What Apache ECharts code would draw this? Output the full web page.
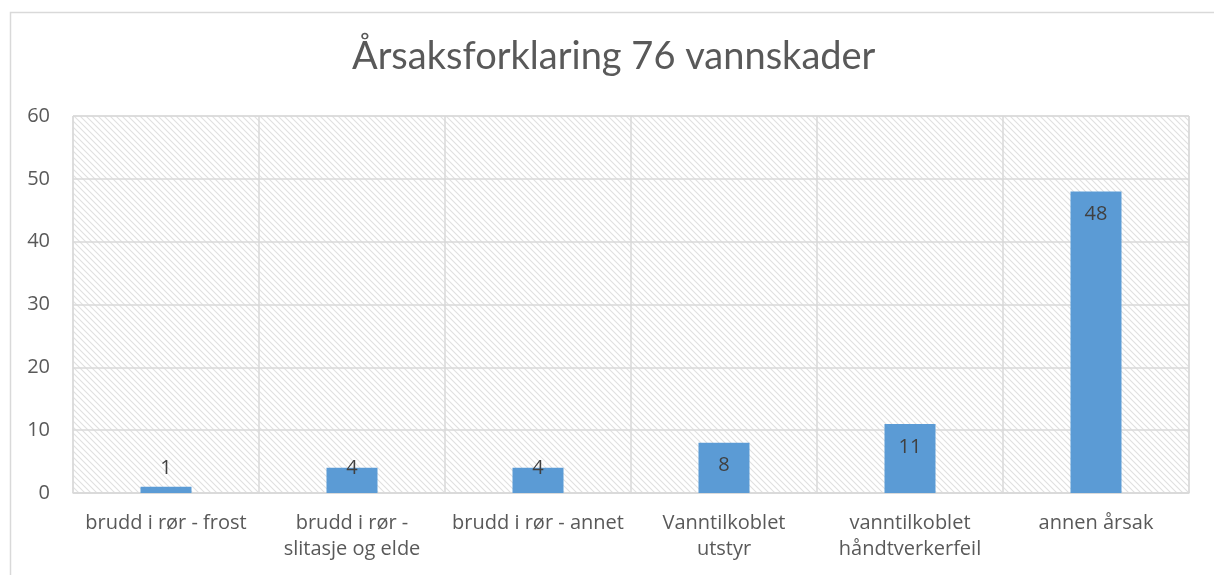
<!DOCTYPE html>
<html>
<head>
<meta charset="utf-8">
<script src="https://cdn.jsdelivr.net/npm/echarts@6/dist/echarts.min.js"></script>
<style>
  html, body { margin: 0; padding: 0; background: #fff; }
  #chart { width: 1214px; height: 575px; }
</style>
</head>
<body>
<div id="chart"></div>
<script>
const titleText = "Årsaksforklaring 76 vannskader";
const categories = [
  "brudd i rør - frost",
  "brudd i rør -\nslitasje og elde",
  "brudd i rør - annet",
  "Vanntilkoblet\nutstyr",
  "vanntilkoblet\nhåndtverkerfeil",
  "annen årsak",
];
const counts = [1, 4, 4, 8, 11, 48];
const yTicks = { min: 0, max: 60, interval: 10 };

// diagonal hatch for the plot area
const hatch = document.createElement("canvas");
hatch.width = 6;
hatch.height = 6;
const hctx = hatch.getContext("2d");
hctx.fillStyle = "#ffffff";
hctx.fillRect(0, 0, 6, 6);
hctx.strokeStyle = "#e0e0e0";
hctx.lineWidth = 1.1;
hctx.beginPath();
hctx.moveTo(-1, -1);
hctx.lineTo(7, 7);
hctx.moveTo(5, -1);
hctx.lineTo(7, 1);
hctx.moveTo(-1, 5);
hctx.lineTo(1, 7);
hctx.stroke();

const chart = echarts.init(document.getElementById("chart"));

const barData = counts.map((v) => ({
  value: v,
  label:
    v >= 8
      ? { position: "insideTop", distance: 13 }
      : { position: "insideBottom", distance: 15 },
}));

const option = {
  animation: false,
  title: {
    text: titleText,
    left: 347,
    top: 33,
    textStyle: {
      fontFamily: "Lato",
      fontSize: 38,
      fontWeight: "normal",
      color: "#595959",
    },
  },
  graphic: [
    {
      type: "rect",
      left: 8,
      top: 10,
      shape: { width: 1400, height: 800 },
      style: { fill: "none", stroke: "#d9d9d9", lineWidth: 1.5 },
      silent: true,
    },
  ],
  grid: {
    left: 73,
    right: 25,
    top: 116,
    bottom: 82,
    show: true,
    borderColor: "#d9d9d9",
    borderWidth: 1,
    backgroundColor: { image: hatch, repeat: "repeat" },
  },
  xAxis: {
    type: "category",
    data: categories,
    axisTick: { show: false },
    axisLine: { lineStyle: { color: "#d9d9d9", width: 1.5 } },
    splitLine: { show: true, lineStyle: { color: "#d9d9d9", width: 1.5 } },
    axisLabel: {
      margin: 17,
      interval: 0,
      fontFamily: "Open Sans",
      fontSize: 20,
      lineHeight: 26,
      color: "#595959",
    },
  },
  yAxis: {
    type: "value",
    min: yTicks.min,
    max: yTicks.max,
    interval: yTicks.interval,
    axisLine: { show: false },
    axisTick: { show: false },
    splitLine: { lineStyle: { color: "#d9d9d9", width: 1.5 } },
    axisLabel: {
      margin: 23,
      fontFamily: "Open Sans",
      fontSize: 20,
      color: "#595959",
    },
  },
  series: [
    {
      type: "bar",
      data: barData,
      barWidth: 51,
      itemStyle: { color: "#5b9bd5" },
      label: {
        show: true,
        fontFamily: "Open Sans",
        fontSize: 20,
        color: "#404040",
      },
    },
  ],
};

chart.setOption(option);
window.addEventListener("resize", () => chart.resize());
</script>
</body>
</html>
